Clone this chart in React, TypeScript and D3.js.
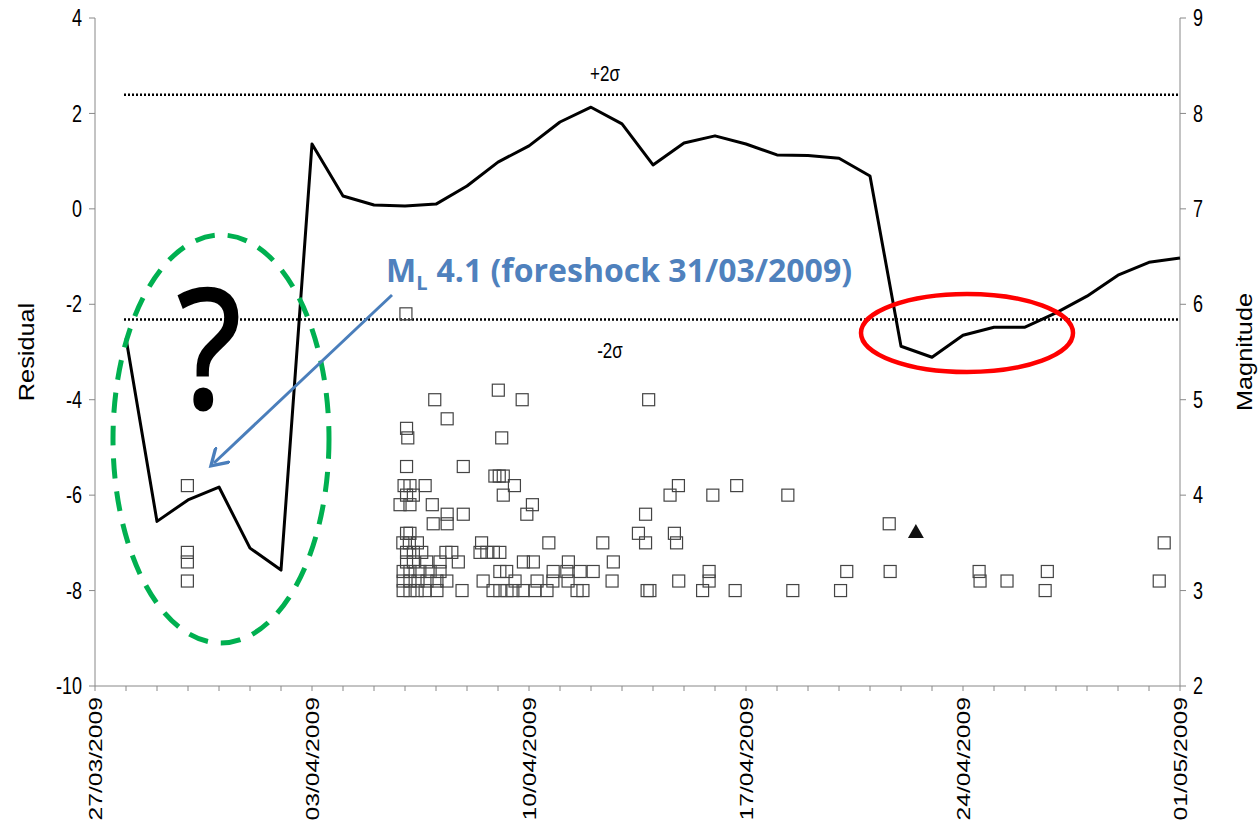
import React from "react";
import * as d3 from "d3";

const START = Date.UTC(2009, 2, 27);
const END = Date.UTC(2009, 4, 1);
const DAY = 86400000;

// residual curve: day offset from 27/03/2009, residual value
const residualDays = [1, 2, 3, 4, 5, 6, 7, 8, 9, 10, 11, 12, 13, 14, 15, 16, 17, 18, 19, 20, 21, 22, 23, 24, 25, 26, 27, 28, 29, 30, 31, 32, 33, 34, 35];
const residualValues = [-2.71, -6.55, -6.1, -5.83, -7.11, -7.57, 1.36, 0.27, 0.08, 0.06, 0.1, 0.48, 0.98, 1.32, 1.82, 2.13, 1.78, 0.92, 1.38, 1.53, 1.36, 1.13, 1.12, 1.06, 0.69, -2.88, -3.11, -2.65, -2.48, -2.48, -2.18, -1.83, -1.39, -1.12, -1.03];

const plusSigma = 2.39;
const minusSigma = -2.32;

// events: day offset from 27/03/2009, magnitude
const eventDays = [
  2.98, 2.98, 2.98, 2.98,
  10.03, 13.01, 10.96, 13.78, 17.86, 11.36, 10.05, 10.09, 13.12, 10.05, 11.88,
  9.97, 10.16, 10.65, 12.9, 13.04, 13.17, 13.53, 13.17, 10.05, 10.27,
  9.84, 10.16, 10.88, 14.11, 11.36, 11.88, 13.93, 17.76, 10.91, 11.36,
  17.53, 10.05, 10.16, 9.93, 10.14, 10.4, 12.47, 14.64, 16.38, 17.76,
  10.05, 10.27, 10.54, 11.32, 11.51, 12.42, 12.64, 12.85, 13.06,
  10.05, 10.27, 10.7, 11.13, 11.72, 13.82, 14.14, 15.27, 16.72,
  9.94, 10.16, 10.48, 10.81, 11.13, 13.06, 13.28, 14.78, 15.22, 15.65, 16.07,
  9.94, 10.16, 10.42, 10.71, 11.03, 11.35, 12.52, 13.55, 14.26, 14.77, 15.26, 16.68,
  9.94, 10.16, 10.39, 10.65, 11.03, 11.84, 12.84, 13.06, 13.29, 13.48, 13.81, 14.19, 14.58, 15.55, 15.74, 17.81, 17.9,
  18.82, 18.55, 19.93, 20.7, 22.35, 18.69, 18.76, 25.62, 19.81, 19.81, 18.83, 24.25, 25.65,
  19.6, 20.65, 22.51, 24.05,
  28.52, 28.55, 29.42, 30.72, 30.65, 34.49, 34.33,
];
const eventMags = [
  4.1, 3.4, 3.3, 3.1,
  5.9, 5.1, 5.0, 5.0, 5.0, 4.8, 4.7, 4.6, 4.6, 4.3, 4.3,
  4.1, 4.1, 4.1, 4.2, 4.2, 4.2, 4.1, 4.0, 4.0, 4.0,
  3.9, 3.9, 3.9, 3.9, 3.8, 3.8, 3.8, 3.8, 3.7, 3.7,
  3.6, 3.6, 3.6, 3.5, 3.5, 3.5, 3.5, 3.5, 3.5, 3.5,
  3.4, 3.4, 3.4, 3.4, 3.4, 3.4, 3.4, 3.4, 3.4,
  3.3, 3.3, 3.3, 3.3, 3.3, 3.3, 3.3, 3.3, 3.3,
  3.2, 3.2, 3.2, 3.2, 3.2, 3.2, 3.2, 3.2, 3.2, 3.2, 3.2,
  3.1, 3.1, 3.1, 3.1, 3.1, 3.1, 3.1, 3.1, 3.1, 3.1, 3.1, 3.1,
  3.0, 3.0, 3.0, 3.0, 3.0, 3.0, 3.0, 3.0, 3.0, 3.0, 3.0, 3.0, 3.0, 3.0, 3.0, 3.0, 3.0,
  4.1, 4.0, 4.0, 4.1, 4.0, 3.6, 3.5, 3.7, 3.2, 3.1, 3.1, 3.2, 3.2,
  3.0, 3.0, 3.0, 3.0,
  3.2, 3.1, 3.1, 3.2, 3.0, 3.5, 3.1,
];

const mainshockDay = 26.48;
const mainshockMag = 3.6;

const leftTicks = [-10, -8, -6, -4, -2, 0, 2, 4];
const rightTicks = [2, 3, 4, 5, 6, 7, 8, 9];
const dateTickDays = [0, 7, 14, 21, 28, 35];

const annotationText = "4.1 (foreshock 31/03/2009)";

export default function App() {
  const W = 1259, H = 823;
  const left = 95, right = 1180, top = 18, bottom = 686;

  const x = d3.scaleUtc().domain([new Date(START), new Date(END)]).range([left, right]);
  const yL = d3.scaleLinear().domain([-10, 4]).range([bottom, top]);
  const yR = d3.scaleLinear().domain([2, 9]).range([bottom, top]);
  const dayDate = (d: number) => new Date(START + d * DAY);
  const fmt = d3.utcFormat("%d/%m/%Y");

  const line = d3
    .line<number>()
    .x((_, i) => x(dayDate(residualDays[i])))
    .y((v) => yL(v));

  const dailyTicks = d3.utcDay.range(new Date(START), new Date(END + 1));
  const axisColor = "#888888";
  const font = "'Liberation Sans', Arial, sans-serif";
  const sq = 12;
  const vs = 1.3;

  const sigmaX0 = x(dayDate(1));
  const tri = d3.symbol().type(d3.symbolTriangle).size(110)();

  return (
    <div style={{ position: "absolute", left: 0, top: 0 }}>
      <svg width={W} height={H} style={{ display: "block", background: "#fff" }}>
        <defs>
          <marker id="arr" viewBox="0 0 10 10" refX="6" refY="5" markerWidth="7" markerHeight="7" orient="auto">
            <path d="M0,0 L8,5 L0,10" fill="none" stroke="#4A7EBB" strokeWidth="1.6" />
          </marker>
        </defs>

        {/* axes */}
        <line x1={left} x2={left} y1={top} y2={bottom} stroke={axisColor} strokeWidth={1} />
        <line x1={right} x2={right} y1={top} y2={bottom} stroke={axisColor} strokeWidth={1} />
        <line x1={left} x2={right} y1={bottom} y2={bottom} stroke={axisColor} strokeWidth={1} />
        {leftTicks.map((t) => (
          <g key={"l" + t}>
            <line x1={left - 6} x2={left} y1={yL(t)} y2={yL(t)} stroke={axisColor} />
            <text transform={`translate(${left - 13},${yL(t)}) scale(1,${vs})`} dy="0.35em" textAnchor="end" fontFamily={font} fontSize={18} fill="#000">
              {t}
            </text>
          </g>
        ))}
        {rightTicks.map((t) => (
          <g key={"r" + t}>
            <line x1={right} x2={right + 6} y1={yR(t)} y2={yR(t)} stroke={axisColor} />
            <text transform={`translate(${right + 13},${yR(t)}) scale(1,${vs})`} dy="0.35em" textAnchor="start" fontFamily={font} fontSize={18} fill="#000">
              {t}
            </text>
          </g>
        ))}
        {dailyTicks.map((d, i) => (
          <line key={"dt" + i} x1={x(d)} x2={x(d)} y1={bottom} y2={bottom + 5} stroke={axisColor} />
        ))}
        {dateTickDays.map((d) => {
          const px = x(dayDate(d));
          return (
            <text
              key={"dl" + d}
              transform={`translate(${px},${bottom + 11}) scale(1,${vs}) rotate(-90)`}
              dy="0.35em"
              textAnchor="end"
              fontFamily={font}
              fontSize={19}
              fill="#000"
            >
              {fmt(dayDate(d))}
            </text>
          );
        })}
        <text transform={`translate(26,${(top + bottom) / 2}) scale(1,1.15) rotate(-90)`} textAnchor="middle" dy="0.35em" fontFamily={font} fontSize={22} fill="#000">
          Residual
        </text>
        <text transform={`translate(1244,${(top + bottom) / 2}) scale(1,1.15) rotate(-90)`} textAnchor="middle" dy="0.35em" fontFamily={font} fontSize={22} fill="#000">
          Magnitude
        </text>

        {/* sigma lines */}
        <line x1={sigmaX0 - 2} x2={right} y1={yL(plusSigma)} y2={yL(plusSigma)} stroke="#000" strokeWidth={2.5} strokeDasharray="2,2" />
        <line x1={sigmaX0 - 2} x2={right} y1={yL(minusSigma)} y2={yL(minusSigma)} stroke="#000" strokeWidth={2.5} strokeDasharray="2,2" />
        <text transform={`translate(605,${yL(plusSigma) - 22}) scale(1,${vs})`} dy="0.35em" textAnchor="middle" fontFamily={font} fontSize={17} fill="#000">+2σ</text>
        <text transform={`translate(610,${yL(minusSigma) + 31}) scale(1,${vs})`} dy="0.35em" textAnchor="middle" fontFamily={font} fontSize={17} fill="#000">-2σ</text>

        {/* events */}
        {eventDays.map((d, i) => (
          <rect
            key={"e" + i}
            x={x(dayDate(d)) - sq / 2}
            y={yR(eventMags[i]) - sq / 2}
            width={sq}
            height={sq}
            fill="none"
            stroke="#444"
            strokeWidth={1.2}
          />
        ))}
        <path d={tri!} transform={`translate(${x(dayDate(mainshockDay))},${yR(mainshockMag)})`} fill="#111" />

        {/* residual line */}
        <path d={line(residualValues)!} fill="none" stroke="#000" strokeWidth={3} strokeLinejoin="round" />

        {/* annotations */}
        <ellipse cx={221} cy={439} rx={108} ry={204} fill="none" stroke="#00B050" strokeWidth={5} strokeDasharray="20,13" />
        <text transform="translate(209,408) scale(0.9,1)" textAnchor="middle" fontFamily="'Open Sans', 'Liberation Sans', sans-serif" fontWeight="normal" fontSize={165} fill="#000" stroke="#000" strokeWidth={3}>?</text>
        <line x1={392} x2={214} y1={295} y2={463} stroke="#4A7EBB" strokeWidth={3} markerEnd="url(#arr)" />
        <text x={386} y={282} fontFamily="'Open Sans', 'Liberation Sans', sans-serif" fontWeight="bold" fontSize={32} fill="#4F81BD">
          <tspan>M</tspan>
          <tspan fontSize={20} dy={8}>L</tspan>
          <tspan dy={-8} dx={9}>{annotationText}</tspan>
        </text>
        <ellipse cx={967} cy={333} rx={106} ry={39} fill="none" stroke="#FF0000" strokeWidth={4.5} />
      </svg>
    </div>
  );
}
